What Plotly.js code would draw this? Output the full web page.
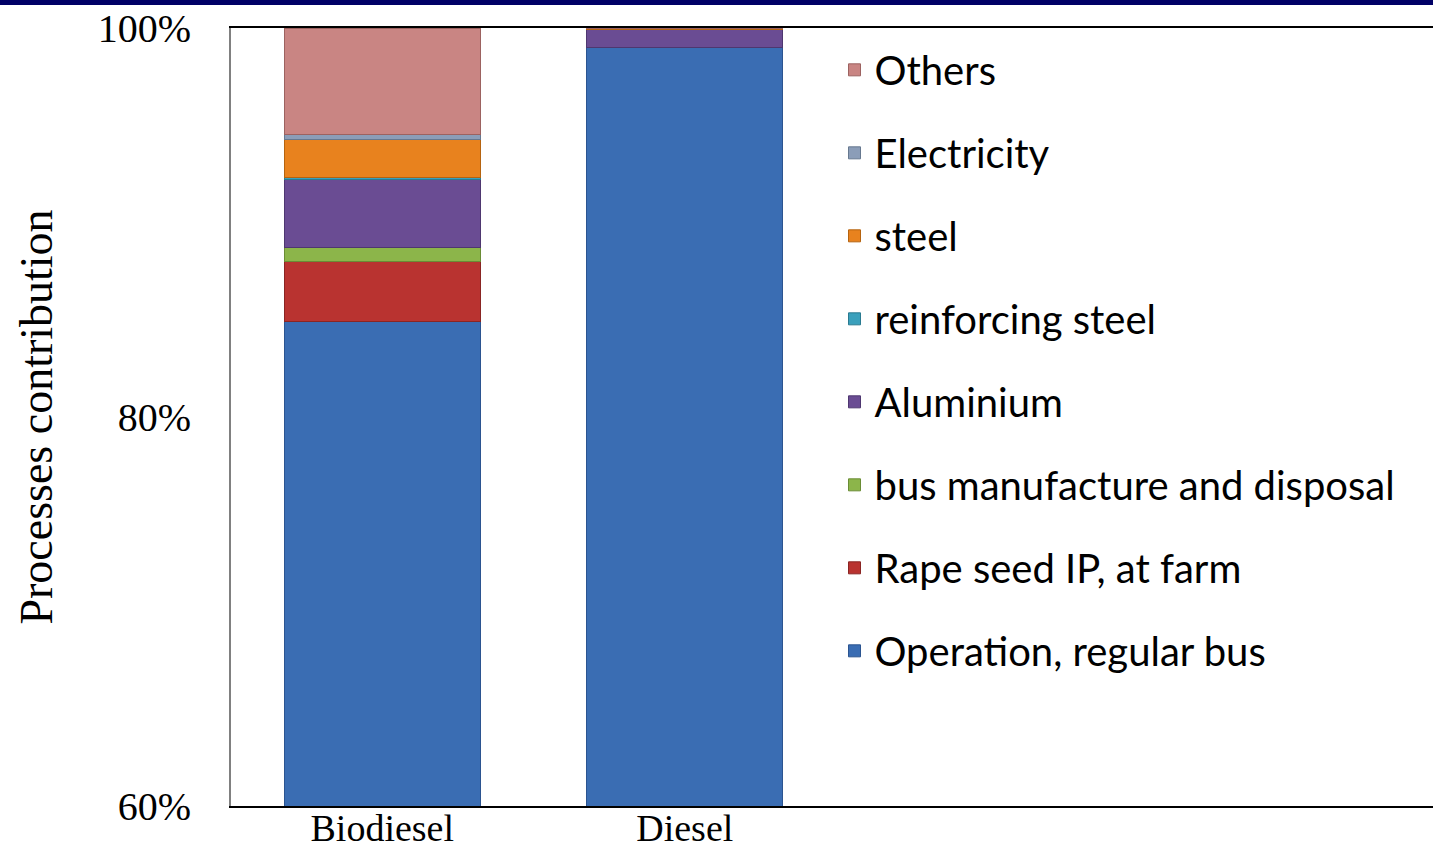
<!DOCTYPE html>
<html>
<head>
<meta charset="utf-8">
<script src="https://cdn.plot.ly/plotly-3.0.1.min.js"></script>
<style>
  html, body { margin: 0; padding: 0; background: #ffffff; overflow: hidden; }
  #band { position: absolute; left: 0; top: 0; width: 1440px; height: 5px; background: #000066; z-index: 10; }
  #chart { width: 1440px; height: 852px; }
</style>
</head>
<body>
<div id="band"></div>
<div id="chart"></div>
<script>
// Categories
const categories = ["Biodiesel", "Diesel"];

// Series (percent contribution), bottom to top in stacking order
const seriesNames = [
  "Operation, regular bus",
  "Rape seed IP, at farm",
  "bus manufacture and disposal",
  "Aluminium",
  "reinforcing steel",
  "steel",
  "Electricity",
  "Others"
];
const operationRegularBus    = [84.9, 99.0];
const rapeSeedIPAtFarm       = [3.1, 0.0];
const busManufactureDisposal = [0.7, 0.0];
const aluminium              = [3.5, 0.9];
const reinforcingSteel       = [0.1, 0.0];
const steel                  = [1.95, 0.05];
const electricity            = [0.3, 0.0];
const others                 = [5.45, 0.05];

const seriesValues = [
  operationRegularBus, rapeSeedIPAtFarm, busManufactureDisposal, aluminium,
  reinforcingSteel, steel, electricity, others
];
const seriesColors = [
  "#3A6DB3", "#B93330", "#8CB54A", "#6A4C93",
  "#3AA0BC", "#E8821E", "#8B9DB8", "#C98583"
];
const seriesLines = [
  "#2B5490", "#8A2523", "#6A8C35", "#4E3770",
  "#2A7A90", "#B5630F", "#66788F", "#9C6260"
];

// Y-axis ticks
const yTickVals = [60, 80, 100];
const yTickText = ["60%", "80%", "100%"];

const traces = seriesNames.map((name, i) => ({
  type: "bar",
  name: name,
  x: categories,
  y: seriesValues[i],
  width: 0.647,
  legendgroup: "g" + i,
  legendrank: 1000 - i * 10,
  marker: { color: seriesColors[i], line: { color: seriesLines[i], width: 1 } },
  hoverinfo: "name+y"
}));

const layout = {
  width: 1440,
  height: 852,
  barmode: "stack",
  paper_bgcolor: "#ffffff",
  plot_bgcolor: "#ffffff",
  margin: { l: 231, r: 0, t: 28, b: 46, pad: 0 },
  showlegend: true,
  legend: {
    x: 0.5, xanchor: "left",
    y: 0.988, yanchor: "top",
    traceorder: "grouped",
    tracegroupgap: 28,
    font: { family: "Lato, 'Liberation Sans', sans-serif", size: 40, color: "#000000" },
    bgcolor: "rgba(0,0,0,0)",
    borderwidth: 0
  },
  xaxis: {
    type: "category",
    range: [-0.5, 3.49],
    showline: true, linecolor: "#000000", linewidth: 2, mirror: true,
    showgrid: false, zeroline: false, ticks: "",
    ticklabelstandoff: -13,
    tickfont: { family: "'Liberation Serif', 'Times New Roman', serif", size: 38, color: "#000000" },
    automargin: false
  },
  yaxis: {
    range: [60, 100],
    tickvals: yTickVals,
    ticktext: yTickText,
    showline: true, linecolor: "#808080", linewidth: 2, mirror: true,
    showgrid: false, zeroline: false, ticks: "",
    ticklabelstandoff: 30,
    tickfont: { family: "'Liberation Serif', 'Times New Roman', serif", size: 40, color: "#000000" },
    title: {
      text: "Processes contribution",
      font: { family: "'Liberation Serif', 'Times New Roman', serif", size: 46, color: "#000000" },
      standoff: 31
    },
    automargin: true
  }
};

Plotly.newPlot("chart", traces, layout, { displayModeBar: false, staticPlot: true });
</script>
</body>
</html>
